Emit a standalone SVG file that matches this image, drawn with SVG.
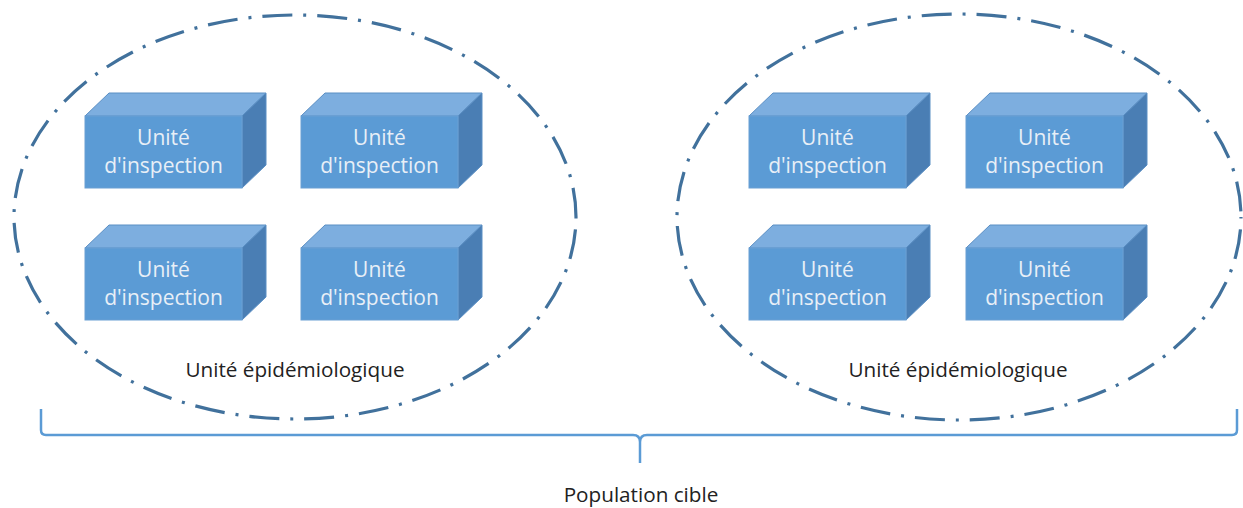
<svg xmlns="http://www.w3.org/2000/svg" width="1243" height="508" viewBox="0 0 1243 508">
<style>
.front{fill:#5b9bd5;stroke:#6a9fd3;stroke-width:1}
.top{fill:#7daedf;stroke:#5b8fc4;stroke-width:1}
.side{fill:#4a7eb4;stroke:#5b8fc4;stroke-width:1}
.bt{font-family:"Open Sans","Liberation Sans",sans-serif;font-size:21px;fill:#e8eff7;text-anchor:middle}
.lbl{font-family:"Open Sans","Liberation Sans",sans-serif;font-size:20.7px;fill:#222;text-anchor:middle}
.ell{fill:none;stroke:#41719c;stroke-width:3.2;stroke-dasharray:3 11 30 11;stroke-dashoffset:1.5}
.brace{fill:none;stroke:#5b9bd5;stroke-width:2.5;stroke-linejoin:round}
</style>
<rect width="1243" height="508" fill="#fff"/>
<g id="group-left">
<ellipse class="ell" cx="295" cy="217" rx="281" ry="202"/>
<text class="lbl" x="295" y="377">Unité épidémiologique</text>
</g>
<g id="group-right">
<ellipse class="ell" cx="959" cy="217" rx="282" ry="203"/>
<text class="lbl" x="958" y="377">Unité épidémiologique</text>
</g>
<g id="box-l1">
<polygon class="top" points="85,116 109,93 266,93 242,116"/>
<polygon class="side" points="242,116 266,93 266,165 242,188"/>
<rect class="front" x="85" y="116" width="157" height="72"/>
<text class="bt" x="163.5" y="145">Unité</text>
<text class="bt" x="163.5" y="173">d'inspection</text>
</g>
<g id="box-l2">
<polygon class="top" points="301,116 325,93 482,93 458,116"/>
<polygon class="side" points="458,116 482,93 482,165 458,188"/>
<rect class="front" x="301" y="116" width="157" height="72"/>
<text class="bt" x="379.5" y="145">Unité</text>
<text class="bt" x="379.5" y="173">d'inspection</text>
</g>
<g id="box-l3">
<polygon class="top" points="85,248 109,225 266,225 242,248"/>
<polygon class="side" points="242,248 266,225 266,297 242,320"/>
<rect class="front" x="85" y="248" width="157" height="72"/>
<text class="bt" x="163.5" y="277">Unité</text>
<text class="bt" x="163.5" y="305">d'inspection</text>
</g>
<g id="box-l4">
<polygon class="top" points="301,248 325,225 482,225 458,248"/>
<polygon class="side" points="458,248 482,225 482,297 458,320"/>
<rect class="front" x="301" y="248" width="157" height="72"/>
<text class="bt" x="379.5" y="277">Unité</text>
<text class="bt" x="379.5" y="305">d'inspection</text>
</g>
<g id="box-r1">
<polygon class="top" points="749,116 773,93 930,93 906,116"/>
<polygon class="side" points="906,116 930,93 930,165 906,188"/>
<rect class="front" x="749" y="116" width="157" height="72"/>
<text class="bt" x="827.5" y="145">Unité</text>
<text class="bt" x="827.5" y="173">d'inspection</text>
</g>
<g id="box-r2">
<polygon class="top" points="966,116 990,93 1147,93 1123,116"/>
<polygon class="side" points="1123,116 1147,93 1147,165 1123,188"/>
<rect class="front" x="966" y="116" width="157" height="72"/>
<text class="bt" x="1044.5" y="145">Unité</text>
<text class="bt" x="1044.5" y="173">d'inspection</text>
</g>
<g id="box-r3">
<polygon class="top" points="749,248 773,225 930,225 906,248"/>
<polygon class="side" points="906,248 930,225 930,297 906,320"/>
<rect class="front" x="749" y="248" width="157" height="72"/>
<text class="bt" x="827.5" y="277">Unité</text>
<text class="bt" x="827.5" y="305">d'inspection</text>
</g>
<g id="box-r4">
<polygon class="top" points="966,248 990,225 1147,225 1123,248"/>
<polygon class="side" points="1123,248 1147,225 1147,297 1123,320"/>
<rect class="front" x="966" y="248" width="157" height="72"/>
<text class="bt" x="1044.5" y="277">Unité</text>
<text class="bt" x="1044.5" y="305">d'inspection</text>
</g>
<g id="connectors">
<path class="brace" d="M41 409 V430 Q41 435 46 435 H633 Q640 435 640 442 V463 M640 442 Q640 435 647 435 H1232 Q1237 435 1237 430 V409"/>
</g>
<g id="population">
<text class="lbl" x="641" y="502">Population cible</text>
</g>
</svg>
